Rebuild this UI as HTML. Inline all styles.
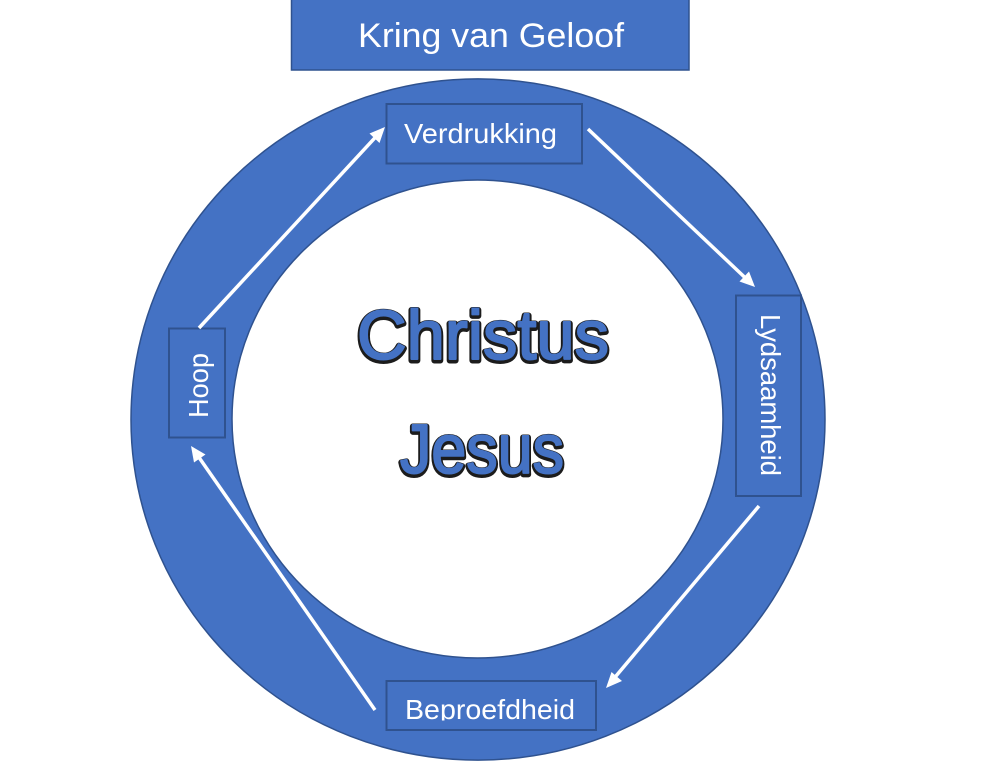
<!DOCTYPE html>
<html>
<head>
<meta charset="utf-8">
<title>Kring van Geloof</title>
<style>
html,body{margin:0;padding:0;background:#fff;width:1000px;height:762px;overflow:hidden}
svg{display:block}
text{font-family:"Liberation Sans",sans-serif}
</style>
</head>
<body>
<svg width="1000" height="762" viewBox="0 0 1000 762" xmlns="http://www.w3.org/2000/svg">
  <defs>
    <clipPath id="bclip"><rect x="386" y="682" width="210" height="38.5"/></clipPath>
  </defs>

  <rect x="291.5" y="-1" width="397.5" height="71" fill="#4472C4" stroke="#2F528F" stroke-width="1.5"/>
  <text x="358" y="47" font-size="34" fill="#fff" textLength="266" lengthAdjust="spacingAndGlyphs">Kring van Geloof</text>

  <path fill-rule="evenodd" fill="#4472C4" stroke="#2F528F" stroke-width="1.5"
    d="M131,419.5 A347,340.5 0 1 0 825,419.5 A347,340.5 0 1 0 131,419.5 Z
       M232,419 A245.5,239 0 1 1 723,419 A245.5,239 0 1 1 232,419 Z"/>

  <rect x="386.5" y="104" width="195.5" height="59.5" fill="#4472C4" stroke="#2F528F" stroke-width="2"/>
  <text x="404" y="143" font-size="28" fill="#fff" textLength="153" lengthAdjust="spacingAndGlyphs">Verdrukking</text>

  <rect x="736" y="295.5" width="65" height="200.5" fill="#4472C4" stroke="#2F528F" stroke-width="2"/>
  <text transform="translate(761,314) rotate(90)" font-size="28" fill="#fff" textLength="162" lengthAdjust="spacingAndGlyphs">Lydsaamheid</text>

  <rect x="169" y="328.5" width="56" height="109" fill="#4472C4" stroke="#2F528F" stroke-width="2"/>
  <text transform="translate(208,418) rotate(-90)" font-size="28" fill="#fff" textLength="65" lengthAdjust="spacingAndGlyphs">Hoop</text>

  <rect x="386.5" y="681" width="209.5" height="49" fill="#4472C4" stroke="#2F528F" stroke-width="2"/>
  <g clip-path="url(#bclip)">
    <text x="405" y="719" font-size="28" fill="#fff" textLength="170" lengthAdjust="spacingAndGlyphs">Beproefdheid</text>
  </g>

  <g stroke="#fff" stroke-width="3.5" fill="none">
    <line x1="199" y1="328" x2="377" y2="135.6"/>
    <line x1="588" y1="129" x2="746.5" y2="279"/>
    <line x1="759" y1="506" x2="613.5" y2="679"/>
    <line x1="375" y1="710" x2="198" y2="456"/>
  </g>
  <g fill="#fff">
    <polygon points="385,127 379.5,143 369.5,133.5"/>
    <polygon points="755,287 739.5,281.5 749,271.5"/>
    <polygon points="606,688 611.5,672 622,681"/>
    <polygon points="191,446 205.5,454.5 194,462.5"/>
  </g>

  <g font-size="70" stroke-linejoin="round">
    <text x="357" y="359" textLength="252" lengthAdjust="spacingAndGlyphs" fill="#222" stroke="#1c1c1c" stroke-width="6" transform="translate(0,1.5)">Christus</text>
    <text x="357" y="359" textLength="252" lengthAdjust="spacingAndGlyphs" fill="#4472C4" stroke="#4472C4" stroke-width="2">Christus</text>
    <text x="400" y="473" textLength="164" lengthAdjust="spacingAndGlyphs" fill="#222" stroke="#1c1c1c" stroke-width="6" transform="translate(0,1.5)">Jesus</text>
    <text x="400" y="473" textLength="164" lengthAdjust="spacingAndGlyphs" fill="#4472C4" stroke="#4472C4" stroke-width="2">Jesus</text>
  </g>
</svg>
</body>
</html>
